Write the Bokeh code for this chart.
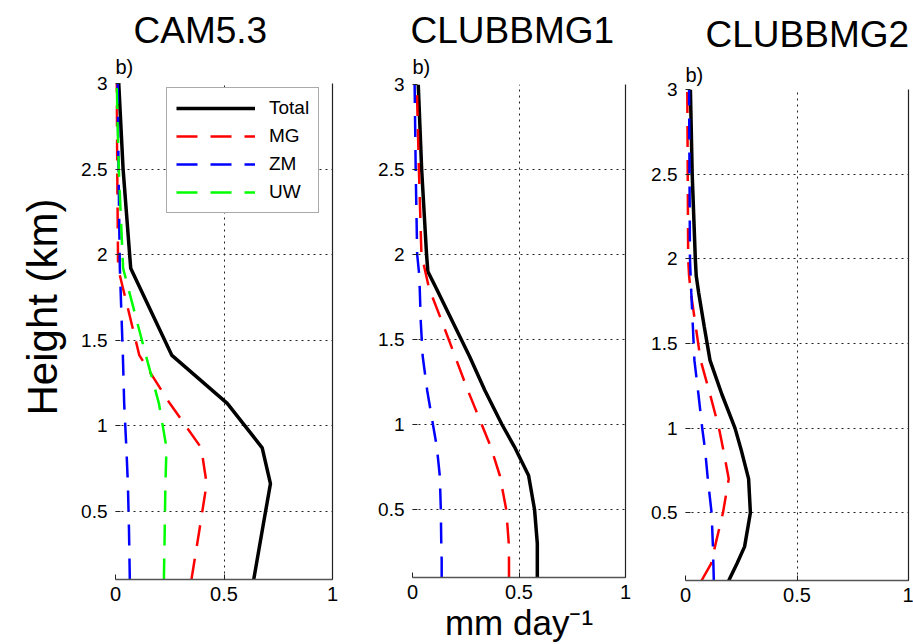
from bokeh.embed import file_html
from bokeh.layouts import row
from bokeh.models import (FixedTicker, Legend, LegendItem, LinearAxis,
                          NumeralTickFormatter, Range1d, Title)
from bokeh.plotting import figure
from bokeh.resources import INLINE

FONT = "Liberation Sans"

# Heights (km) of the model levels shown in each panel
heights_cam = [0.1, 0.4, 0.66, 0.87, 1.13, 1.41, 1.92, 2.5, 3.0]
heights_clubb = [0.1, 0.2, 0.3, 0.5, 0.7, 0.87, 1.0, 1.2, 1.4, 1.6, 1.8, 1.9, 2.0, 2.5, 3.0]

# CAM5.3 precipitation rates (mm/day)
cam_total = [0.637, 0.678, 0.714, 0.676, 0.515, 0.26, 0.07, 0.035, 0.015]
cam_mg = [0.35, 0.388, 0.42, 0.395, 0.25, 0.11, 0.012, 0.008, 0.004]
cam_zm = [0.066, 0.062, 0.057, 0.05, 0.04, 0.034, 0.02, 0.014, 0.01]
cam_uw = [0.223, 0.227, 0.23, 0.235, 0.2, 0.14, 0.035, 0.015, 0.005]

# CLUBBMG1
mg1_total = [0.586, 0.586, 0.586, 0.573, 0.545, 0.478, 0.42, 0.34, 0.268, 0.19, 0.112, 0.072, 0.066, 0.043, 0.027]
mg1_mg = [0.453, 0.453, 0.452, 0.44, 0.41, 0.367, 0.325, 0.26, 0.2, 0.14, 0.078, 0.06, 0.042, 0.03, 0.02]
mg1_zm = [0.137, 0.137, 0.135, 0.133, 0.128, 0.114, 0.096, 0.069, 0.048, 0.039, 0.034, 0.03, 0.022, 0.015, 0.01]

# CLUBBMG2
mg2_total = [0.194, 0.231, 0.265, 0.291, 0.283, 0.25, 0.222, 0.163, 0.11, 0.084, 0.059, 0.048, 0.044, 0.03, 0.022]
mg2_mg = [0.072, 0.115, 0.132, 0.168, 0.194, 0.17, 0.15, 0.11, 0.068, 0.046, 0.024, 0.016, 0.012, 0.01, 0.008]
mg2_zm = [0.127, 0.125, 0.123, 0.117, 0.10, 0.088, 0.075, 0.058, 0.04, 0.033, 0.026, 0.023, 0.02, 0.018, 0.016]

x_ticks = [0, 0.5, 1]
y_ticks = [0.5, 1, 1.5, 2, 2.5, 3]

DASH = "21 13"


def make_panel(width, left, right, top, bottom, title, title_offset, tag_standoff, title_standoff):
    p = figure(width=width, height=644, x_range=Range1d(0, 1), y_range=Range1d(0.1, 3),
               output_backend="svg", toolbar_location=None, tools="", title=None,
               min_border_left=left, min_border_right=right,
               min_border_top=top, min_border_bottom=bottom, frame_align=False)
    p.outline_line_color = None
    p.background_fill_color = "white"
    p.border_fill_color = "white"

    p.xaxis.ticker = FixedTicker(ticks=x_ticks)
    p.yaxis.ticker = FixedTicker(ticks=y_ticks)
    p.xgrid.ticker = FixedTicker(ticks=x_ticks)
    p.ygrid.ticker = FixedTicker(ticks=y_ticks)
    for g in (p.xgrid, p.ygrid):
        g.grid_line_color = "#222222"
        g.grid_line_dash = "2 4"
        g.grid_line_width = 1

    p.xaxis.formatter = NumeralTickFormatter(format="0.[0]")
    p.yaxis.formatter = NumeralTickFormatter(format="0.[0]")

    p.yaxis.axis_line_color = None
    p.xaxis.axis_line_color = "#555555"
    p.xaxis.axis_line_width = 1.5
    for ax in (p.xaxis, p.yaxis):
        ax.major_tick_in = 5
        ax.major_tick_out = 0
        ax.major_tick_line_color = "#222222"
        ax.minor_tick_line_color = None
        ax.major_label_text_font = FONT
        ax.major_label_text_color = "black"
    p.xaxis.major_label_standoff = 7
    p.yaxis.major_label_standoff = 8
    p.xaxis.major_label_text_font_size = "20px"
    p.yaxis.major_label_text_font_size = "19px"

    # solid frame edge on the right
    right_ax = LinearAxis(ticker=FixedTicker(ticks=[]), axis_line_color="#222222",
                          axis_line_width=1.2, major_tick_line_color=None,
                          minor_tick_line_color=None, major_label_standoff=0)
    p.add_layout(right_ax, "right")

    # panel tag, then the run name above it
    p.add_layout(Title(text="b)", align="left", offset=0, standoff=tag_standoff,
                       text_font=FONT, text_font_size="20px", text_font_style="normal",
                       text_color="black"), "above")
    p.add_layout(Title(text=title, align="left", offset=title_offset, standoff=title_standoff,
                       text_font=FONT, text_font_size="37px", text_font_style="normal",
                       text_color="black"), "above")
    return p


# Panel 1: CAM5.3
p1 = make_panel(367, 115, 35, 83, 65, "CAM5.3", 18, 12, -6)
r_tot = p1.line(cam_total, heights_cam, line_color="black", line_width=3.5)
r_mg = p1.line(cam_mg, heights_cam, line_color="#ff0000", line_width=2.5, line_dash=DASH)
r_zm = p1.line(cam_zm, heights_cam, line_color="#0000ff", line_width=2.5, line_dash=DASH)
r_uw = p1.line(cam_uw, heights_cam, line_color="#00ff00", line_width=2.5, line_dash=DASH)
legend = Legend(items=[LegendItem(label="Total", renderers=[r_tot]),
                       LegendItem(label="MG", renderers=[r_mg]),
                       LegendItem(label="ZM", renderers=[r_zm]),
                       LegendItem(label="UW", renderers=[r_uw])],
                location=(51, 366), glyph_width=79, glyph_height=20, label_height=20,
                label_standoff=14, padding=9, spacing=6, margin=0,
                label_text_font=FONT, label_text_font_size="19px", label_text_color="black",
                border_line_color="#555555", border_line_width=1.5,
                background_fill_color="white", background_fill_alpha=1)
p1.add_layout(legend)
p1.add_layout(Title(text="Height (km)", align="left", offset=164, standoff=26,
                    text_font=FONT, text_font_size="42px", text_font_style="normal",
                    text_color="black"), "left")

# Panel 2: CLUBBMG1
p2 = make_panel(273, 45, 15, 84, 64, "CLUBBMG1", -2, 13, -6)
p2.line(mg1_total, heights_clubb, line_color="black", line_width=3.5)
p2.line(mg1_mg, heights_clubb, line_color="#ff0000", line_width=2.5, line_dash=DASH)
p2.line(mg1_zm, heights_clubb, line_color="#0000ff", line_width=2.5, line_dash=DASH)
p2.xaxis.axis_label = "mm day\u207b\u00b9"
p2.xaxis.axis_label_text_font = FONT
p2.xaxis.axis_label_text_font_size = "35px"
p2.xaxis.axis_label_text_font_style = "normal"
p2.xaxis.axis_label_text_color = "black"
p2.xaxis.axis_label_standoff = 1

# Panel 3: CLUBBMG2
p3 = make_panel(273, 45, 5, 89, 64, "CLUBBMG2", 20, 7, 7)
p3.line(mg2_total, heights_clubb, line_color="black", line_width=3.5)
p3.line(mg2_mg, heights_clubb, line_color="#ff0000", line_width=2.5, line_dash=DASH)
p3.line(mg2_zm, heights_clubb, line_color="#0000ff", line_width=2.5, line_dash=DASH)

layout = row(p1, p2, p3)
open("out.html", "w").write(file_html(layout, INLINE))
